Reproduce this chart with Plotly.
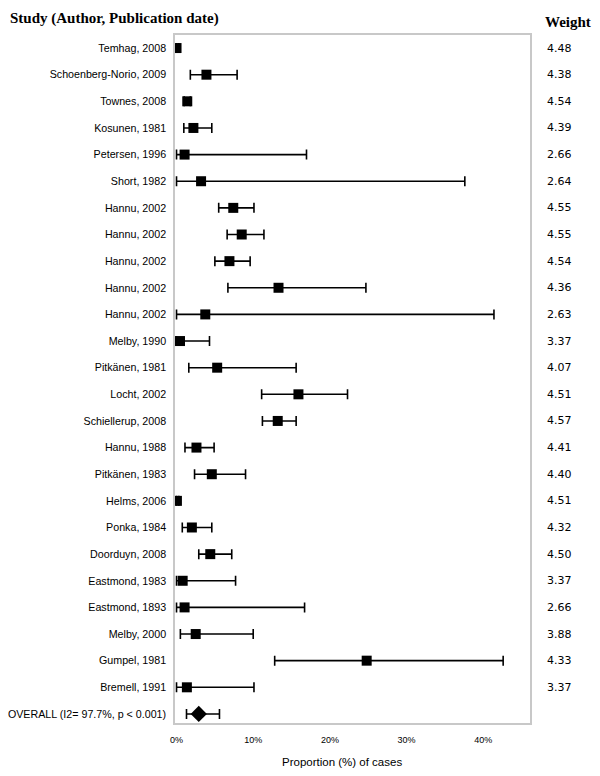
import plotly.graph_objects as go

studies = ["Temhag, 2008", "Schoenberg-Norio, 2009", "Townes, 2008", "Kosunen, 1981",
           "Petersen, 1996", "Short, 1982", "Hannu, 2002", "Hannu, 2002", "Hannu, 2002",
           "Hannu, 2002", "Hannu, 2002", "Melby, 1990", "Pitkänen, 1981", "Locht, 2002",
           "Schiellerup, 2008", "Hannu, 1988", "Pitkänen, 1983", "Helms, 2006", "Ponka, 1984",
           "Doorduyn, 2008", "Eastmond, 1983", "Eastmond, 1893", "Melby, 2000", "Gumpel, 1981",
           "Bremell, 1991"]
estimate = [0.0, 3.9, 1.4, 2.2, 1.05, 3.2, 7.4, 8.5, 6.9, 13.3, 3.75, 0.45, 5.3, 15.9,
            13.2, 2.6, 4.6, 0.05, 2.0, 4.4, 0.8, 1.05, 2.5, 24.8, 1.35]
ci_low = [0.0, 1.8, 1.0, 0.95, 0.0, 0.0, 5.5, 6.6, 5.0, 6.7, 0.0, 0.0, 1.6, 11.1,
          11.2, 1.1, 2.35, 0.0, 0.75, 2.9, 0.0, 0.0, 0.5, 12.8, 0.0]
ci_high = [0.3, 7.9, 1.8, 4.6, 16.95, 37.6, 10.1, 11.4, 9.6, 24.7, 41.4, 4.3, 15.6, 22.3,
           15.6, 4.9, 9.0, 0.3, 4.6, 7.2, 7.7, 16.7, 10.0, 42.6, 10.1]
weights = ["4.48", "4.38", "4.54", "4.39", "2.66", "2.64", "4.55", "4.55", "4.54", "4.36",
           "2.63", "3.37", "4.07", "4.51", "4.57", "4.41", "4.40", "4.51", "4.32", "4.50",
           "3.37", "2.66", "3.88", "4.33", "3.37"]
overall_label = "OVERALL (I2= 97.7%, p < 0.001)"
overall_est = 2.9
overall_low = 1.3
overall_high = 5.6
x_ticks = [0, 10, 20, 30, 40]
x_ticklabels = ["0%", "10%", "20%", "30%", "40%"]

n = len(studies)
rows = list(range(n))
labels = studies + [overall_label]

fig = go.Figure()
fig.add_trace(go.Scatter(
    x=estimate, y=rows, mode="markers",
    marker=dict(symbol="square", size=10, color="black"),
    error_x=dict(type="data", symmetric=False,
                 array=[h - e for h, e in zip(ci_high, estimate)],
                 arrayminus=[e - l for e, l in zip(estimate, ci_low)],
                 color="black", thickness=1.6, width=5),
    showlegend=False))
fig.add_trace(go.Scatter(
    x=[overall_est], y=[n], mode="markers",
    marker=dict(symbol="diamond", size=12.5, color="black"),
    error_x=dict(type="data", symmetric=False,
                 array=[overall_high - overall_est],
                 arrayminus=[overall_est - overall_low],
                 color="black", thickness=1.6, width=5),
    showlegend=False))

for i, w in enumerate(weights):
    fig.add_annotation(x=1.042, y=i, xref="paper", yref="y", text=w, showarrow=False,
                       xanchor="left", yanchor="middle",
                       font=dict(family="DejaVu Sans", size=11, color="black"))
fig.add_annotation(x=1.036, y=1.0, xref="paper", yref="paper", text="<b>Weight</b>",
                   showarrow=False, xanchor="left", yanchor="middle", yshift=13,
                   font=dict(family="Liberation Serif", size=15, color="black"))
fig.add_annotation(x=-0.47, y=1.0, xref="paper", yref="paper",
                   text="<b>Study (Author, Publication date)</b>", showarrow=False,
                   xanchor="left", yanchor="top", yshift=27,
                   font=dict(family="Liberation Serif", size=15, color="black"))
fig.add_annotation(x=0.47, y=0.0, xref="paper", yref="paper",
                   text="Proportion (%) of cases", showarrow=False,
                   xanchor="center", yanchor="middle", yshift=-39,
                   font=dict(family="Liberation Sans", size=11.5, color="black"))

fig.update_layout(
    width=600, height=776,
    margin=dict(l=167, r=78, t=27, b=61, autoexpand=False),
    paper_bgcolor="white", plot_bgcolor="white",
    font=dict(family="Liberation Sans", size=10, color="black"),
    xaxis=dict(range=[-0.2, 46.1], tickvals=x_ticks, ticktext=x_ticklabels,
               showgrid=False, zeroline=False, showline=True, mirror=True,
               linecolor="#c8c8c8", linewidth=1.5, ticks="", automargin=False,
               ticklabelstandoff=7,
               tickfont=dict(family="Liberation Sans", size=9)),
    yaxis=dict(range=[n + 0.34, -0.49], tickvals=list(range(n + 1)), ticktext=labels,
               showgrid=False, zeroline=False, showline=True, mirror=True,
               linecolor="#c8c8c8", linewidth=1.5, ticks="", ticklabelstandoff=5,
               automargin=False,
               tickfont=dict(family="Liberation Sans", size=10.7)),
)

fig.write_html("out.html")
